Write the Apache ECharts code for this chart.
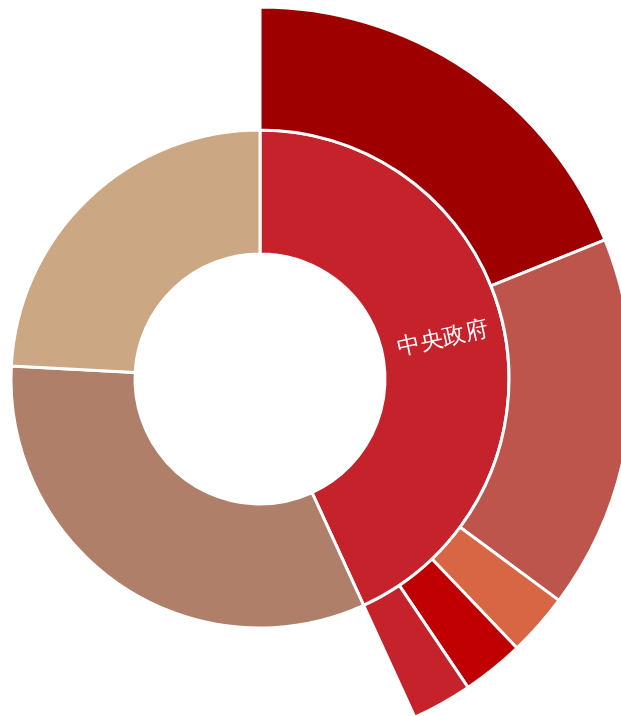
<!DOCTYPE html>
<html>
<head>
<meta charset="utf-8">
<script src="https://cdn.jsdelivr.net/npm/echarts@6/dist/echarts.min.js"></script>
<style>
  html, body { margin: 0; padding: 0; background: #fff; }
  #chart { width: 621px; height: 716px; }
</style>
</head>
<body>
<div id="chart"></div>
<script>
// inner ring
var groupNames = ['中央政府', '地方政府', '社会资本'];
var groupValues = [43.17, 32.67, 24.17];
var groupColors = ['#C6222B', '#AF7F69', '#CBA883'];

// outer ring, children of 中央政府
var subNames = ['一般公共预算', '政府性基金', '国有资本经营', '专项债券', '其他'];
var subValues = [18.90, 16.25, 2.72, 2.69, 2.61];
var subColors = ['#9E0000', '#BD554C', '#D86645', '#C00000', '#C6222B'];

var chart = echarts.init(document.getElementById('chart'));

var data = groupNames.map(function (name, i) {
    var node = {
        name: name,
        value: groupValues[i],
        itemStyle: { color: groupColors[i] },
        label: { show: i === 0 }
    };
    if (i === 0) {
        node.children = subNames.map(function (n, j) {
            return {
                name: n,
                value: subValues[j],
                itemStyle: { color: subColors[j] },
                label: { show: false }
            };
        });
    }
    return node;
});

var option = {
    animation: false,
    series: [{
        type: 'sunburst',
        center: [260, 379],
        sort: null,
        nodeClick: false,
        data: data,
        itemStyle: {
            borderColor: '#fff',
            borderWidth: 3
        },
        label: {
            color: '#fff',
            fontSize: 23,
            rotate: 'radial'
        },
        levels: [
            {},
            { r0: 125, r: 249 },
            { r0: 249, r: 372 }
        ]
    }]
};

chart.setOption(option);
</script>
</body>
</html>
